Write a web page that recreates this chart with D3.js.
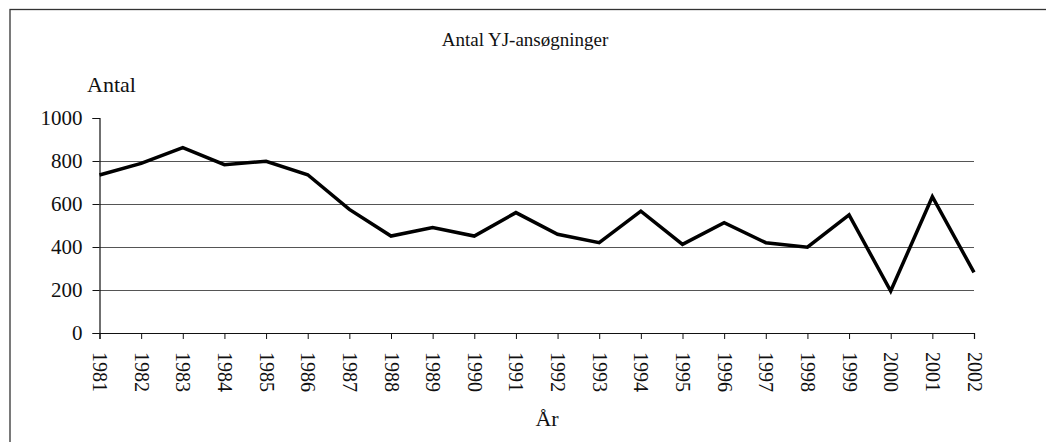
<!DOCTYPE html>
<html>
<head>
<meta charset="utf-8">
<script src="https://cdn.jsdelivr.net/npm/d3@7"></script>
<style>
  html, body { margin: 0; padding: 0; background: #fff; }
  svg { display: block; }
  text { font-family: "Liberation Serif", "DejaVu Serif", serif; fill: #111; }
</style>
</head>
<body>
<svg id="chart" width="1046" height="442"></svg>
<script>
const years = ["1981","1982","1983","1984","1985","1986","1987","1988","1989","1990","1991",
               "1992","1993","1994","1995","1996","1997","1998","1999","2000","2001","2002"];
const antal = [735, 789, 862, 783, 799, 736, 575, 451, 490, 451, 560,
               459, 420, 567, 412, 513, 420, 399, 549, 195, 634, 282];
const yTicks = [0, 200, 400, 600, 800, 1000];
const gridValues = [200, 400, 600, 800];
const chartTitle = "Antal YJ-ansøgninger";
const yTitle = "Antal";
const xTitle = "År";

const svg = d3.select("#chart");
const plotLeft = 99.5, plotRight = 974, plotTop = 118, plotBottom = 333;

const x = d3.scalePoint().domain(years).range([plotLeft, plotRight]);
const y = d3.scaleLinear().domain([0, 1000]).range([plotBottom, plotTop]);

// frame
svg.append("rect")
  .attr("x", 10).attr("y", 9.5).attr("width", 1060).attr("height", 460)
  .attr("fill", "none").attr("stroke", "#333").attr("stroke-width", 1.3);

// gridlines
svg.append("g").selectAll("line").data(gridValues).join("line")
  .attr("x1", plotLeft).attr("x2", plotRight)
  .attr("y1", d => Math.round(y(d)) + 0.5).attr("y2", d => Math.round(y(d)) + 0.5)
  .attr("stroke", "#555").attr("stroke-width", 1);

// y axis
const yAxis = svg.append("g")
  .attr("transform", `translate(${plotLeft},0)`)
  .call(d3.axisLeft(y).tickValues(yTicks).tickSize(7).tickPadding(10).tickFormat(d3.format("d")));
yAxis.select(".domain").attr("stroke", "#111").attr("stroke-width", 1.2);
yAxis.selectAll(".tick line").attr("stroke", "#111");
yAxis.selectAll(".tick text")
  .style("font-family", '"Liberation Serif", serif').style("font-size", "21px").attr("fill", "#111");

// x axis
const xAxis = svg.append("g")
  .attr("transform", `translate(0,${plotBottom})`)
  .call(d3.axisBottom(x).tickSize(6).tickPadding(0));
xAxis.select(".domain").attr("stroke", "#111").attr("stroke-width", 1.2);
xAxis.selectAll(".tick line").attr("stroke", "#111");
xAxis.selectAll(".tick text")
  .style("font-family", '"Liberation Serif", serif').style("font-size", "20px").attr("fill", "#111")
  .attr("y", 0).attr("dy", null)
  .attr("text-anchor", "start")
  .attr("dominant-baseline", "central")
  .attr("transform", "translate(0,19) rotate(90)");

// line
const line = d3.line().x((d, i) => x(years[i])).y(d => y(d));
svg.append("path").datum(antal)
  .attr("d", line).attr("fill", "none")
  .attr("stroke", "#000").attr("stroke-width", 3.5)
  .attr("stroke-linejoin", "miter");

// titles
svg.append("text").attr("x", 525).attr("y", 46).attr("text-anchor", "middle")
  .style("font-size", "19px").text(chartTitle);
svg.append("text").attr("x", 87).attr("y", 92).attr("text-anchor", "start")
  .style("font-size", "22px").text(yTitle);
svg.append("text").attr("x", 547).attr("y", 426).attr("text-anchor", "middle")
  .style("font-size", "22px").text(xTitle);
</script>
</body>
</html>
